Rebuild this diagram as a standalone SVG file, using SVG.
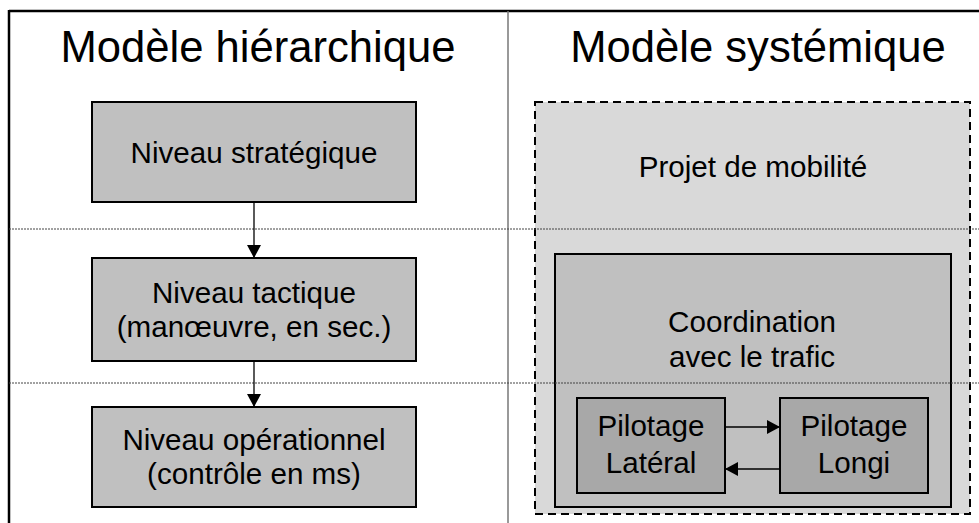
<svg xmlns="http://www.w3.org/2000/svg" width="979" height="523" viewBox="0 0 979 523">
<style>
text{font-family:"Liberation Sans",Arial,sans-serif;fill:#000;text-anchor:middle}
.title{font-size:43.6px}
.lbl{font-size:29.6px}
.box{fill:#c0c0c0;stroke:#000;stroke-width:2}
.dark{fill:#a8a8a8;stroke:#000;stroke-width:2}
.outer{fill:#d9d9d9;stroke:#000;stroke-width:2;stroke-dasharray:8 5}
.sep{stroke:#444;stroke-width:1;stroke-dasharray:2 1;fill:none}
.conn{stroke:#000;stroke-width:1.3;fill:none}
</style>
<defs>
<marker id="ah" markerUnits="userSpaceOnUse" markerWidth="14" markerHeight="14" viewBox="0 0 14 14" refX="13" refY="7" orient="auto">
<path d="M0,0 L13,7 L0,14 Z" fill="#000"/>
</marker>
</defs>
<rect width="979" height="523" fill="#fff"/>
<g id="frame">
<line x1="9" y1="11" x2="979" y2="11" stroke="#000" stroke-width="2.5"/>
<line x1="9" y1="10" x2="9" y2="523" stroke="#000" stroke-width="2.5"/>
<line x1="508" y1="11" x2="508" y2="523" stroke="#777" stroke-width="1.5"/>
</g>
<g id="titles">
<text class="title" x="258" y="62">Modèle hiérarchique</text>
<text class="title" x="758" y="62">Modèle systémique</text>
</g>
<g id="n-strategique">
<rect class="box" x="92" y="102" width="324" height="100"/>
<text class="lbl" x="254" y="163">Niveau stratégique</text>
</g>
<g id="n-tactique">
<rect class="box" x="92" y="258" width="324" height="103"/>
<text class="lbl" x="254" y="303">Niveau tactique</text>
<text class="lbl" x="254" y="337">(manœuvre, en sec.)</text>
</g>
<g id="n-operationnel">
<rect class="box" x="92" y="407" width="324" height="100"/>
<text class="lbl" x="254" y="450">Niveau opérationnel</text>
<text class="lbl" x="254" y="484">(contrôle en ms)</text>
</g>
<g id="n-projet">
<rect class="outer" x="535" y="102" width="435" height="412"/>
<text class="lbl" x="753" y="177">Projet de mobilité</text>
</g>
<g id="n-coordination">
<rect class="box" x="555" y="254" width="396" height="253"/>
<text class="lbl" x="752" y="332">Coordination</text>
<text class="lbl" x="752" y="367">avec le trafic</text>
</g>
<g id="n-lateral">
<rect class="dark" x="577" y="398" width="148" height="95"/>
<text class="lbl" x="651" y="436">Pilotage</text>
<text class="lbl" x="651" y="473">Latéral</text>
</g>
<g id="n-longi">
<rect class="dark" x="780" y="398" width="148" height="95"/>
<text class="lbl" x="854" y="436">Pilotage</text>
<text class="lbl" x="854" y="473">Longi</text>
</g>
<g id="separators">
<line class="sep" x1="9" y1="229" x2="979" y2="229"/>
<line class="sep" x1="9" y1="383" x2="979" y2="383"/>
</g>
<g id="connectors">
<line class="conn" x1="254" y1="202" x2="254" y2="258" marker-end="url(#ah)"/>
<line class="conn" x1="254" y1="361" x2="254" y2="407" marker-end="url(#ah)"/>
<line class="conn" x1="725" y1="427" x2="780" y2="427" marker-end="url(#ah)"/>
<line class="conn" x1="780" y1="469" x2="725" y2="469" marker-end="url(#ah)"/>
</g>
</svg>
